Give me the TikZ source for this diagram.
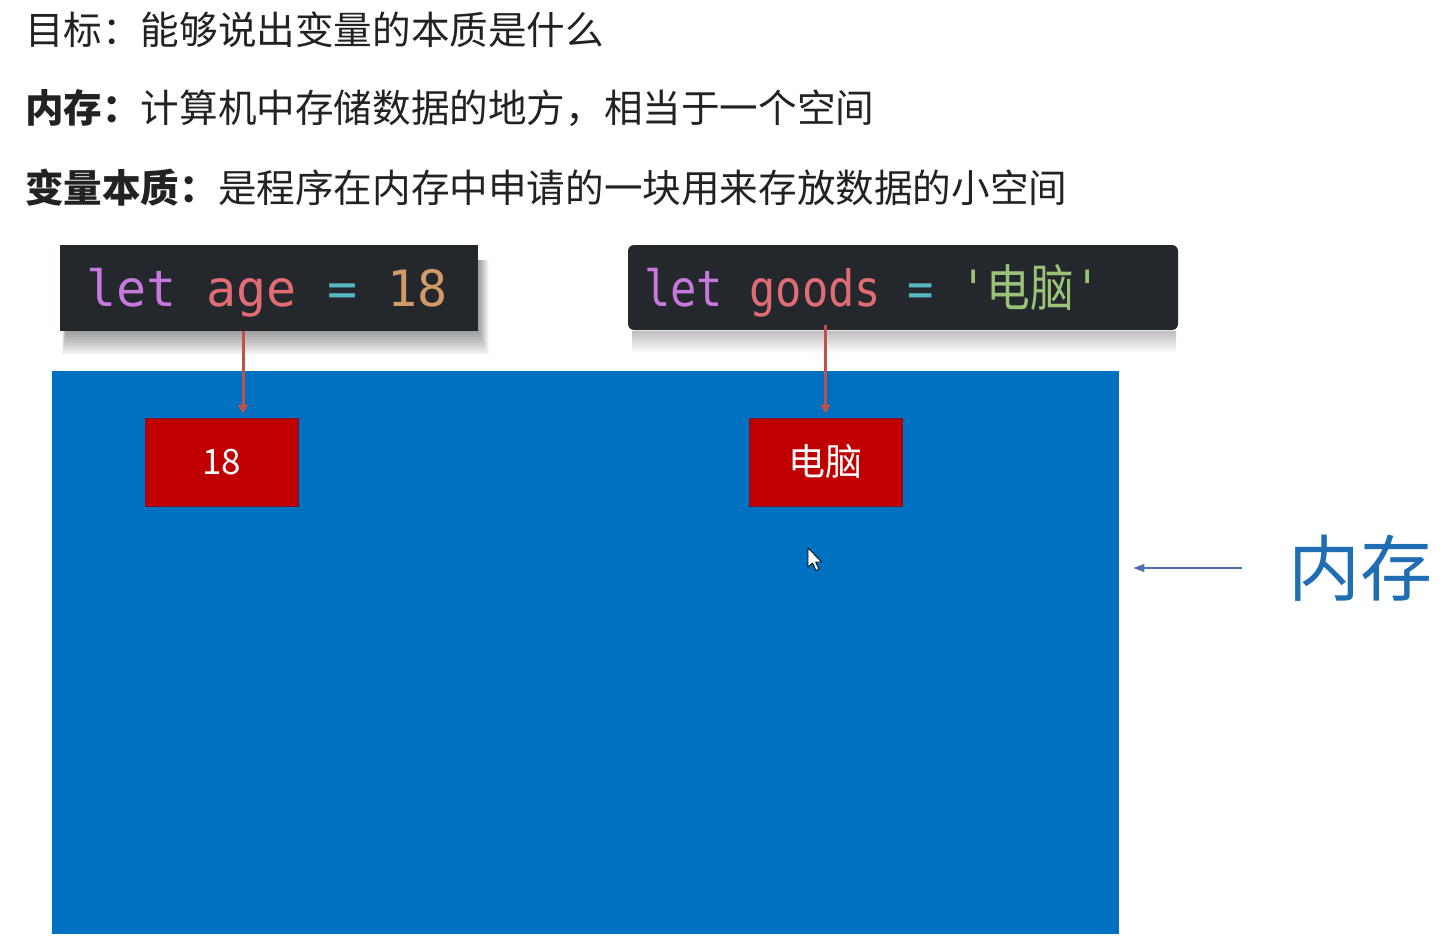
\documentclass[tikz,border=0pt]{standalone}
\usepackage{fontspec}
\usepackage{graphicx}
\setmainfont{Noto Sans CJK SC}
\newfontfamily\codefont{DejaVu Sans Mono}
\newfontfamily\cjkfont{Noto Sans CJK SC}
\usetikzlibrary{arrows.meta}
\definecolor{memblue}{RGB}{0,112,192}
\definecolor{boxred}{RGB}{192,0,0}
\definecolor{boxedge}{RGB}{120,20,50}
\definecolor{codebg}{RGB}{36,39,44}
\definecolor{kwpurple}{RGB}{198,120,221}
\definecolor{varred}{RGB}{224,108,117}
\definecolor{opcyan}{RGB}{86,182,194}
\definecolor{numorange}{RGB}{209,154,102}
\definecolor{strgreen}{RGB}{152,195,121}
\definecolor{arrowred}{RGB}{192,80,77}
\definecolor{labelblue}{RGB}{31,110,180}
\definecolor{thinblue}{RGB}{79,113,170}
\definecolor{textgray}{RGB}{34,34,34}
\tikzset{
  titletext/.style={anchor=base west, inner sep=0pt, text=textgray, font=\fontsize{38.6}{40}\selectfont},
  codebox/.style={fill=codebg, inner sep=0pt},
  codetext/.style={anchor=base west, inner sep=0pt, font=\codefont\fontsize{50}{52}\selectfont},
  valbox/.style={fill=boxred, draw=boxedge, line width=1pt, minimum width=153pt, minimum height=88pt, inner sep=0pt, text=white},
  redarrow/.style={draw=arrowred, line width=3pt, -{Triangle[length=9pt,width=10pt]}},
  thinarrow/.style={draw=thinblue, line width=1.3pt, -{Triangle[length=11pt,width=8pt]}},
}
\begin{document}
\begin{tikzpicture}[x=1pt,y=-1pt]
\useasboundingbox (0,0) rectangle (1449,950);
\fill[white] (0,0) rectangle (1449,950);

% title lines
\node[titletext] (t1) at (25,45) {目标：能够说出变量的本质是什么};
\node[titletext] (t2) at (25,122) {\textbf{内存：}计算机中存储数据的地方，相当于一个空间};
\node[titletext] (t3) at (25,202) {\textbf{变量本质：}是程序在内存中申请的一块用来存放数据的小空间};

% memory block
\node[fill=memblue, minimum width=1067pt, minimum height=563pt, inner sep=0pt, anchor=north west] (mem) at (52,371) {};

% shadow of code box 1
\foreach \i in {1,...,12}
  \fill[black, opacity=0.035] (66-\i*0.3, 260) rectangle (478+\i*0.9, 331+\i*2);

% reflection of code box 2
\shade[top color=black!25, bottom color=white] (632,331) rectangle (1176,353);

% code boxes
\node[codebox, minimum width=418pt, minimum height=86pt] (code1) at (269,288) {};
\node[codebox, rounded corners=6pt, minimum width=550pt, minimum height=85pt] (code2) at (903,287.5) {};

\node[codetext] (c1) at (86,306) {\textcolor{kwpurple}{let} \textcolor{varred}{age} \textcolor{opcyan}{=} \textcolor{numorange}{18}};
\node[codetext] (c2) at (644,306) {\scalebox{0.875}[1]{\textcolor{kwpurple}{let} \textcolor{varred}{goods} \textcolor{opcyan}{=} \textcolor{strgreen}{'{\cjkfont\fontsize{50}{52}\selectfont 电脑}'}}};

% value boxes
\node[valbox, font=\fontsize{35}{36}\selectfont] (v1) at (221.5,462) {18};
\node[valbox, font=\fontsize{37}{38}\selectfont] (v2) at (825.5,462) {电脑};

% arrows from code to values
\coordinate (a1x) at (243,0);
\draw[redarrow, shorten >=4pt] (a1x |- code1.south) -- (a1x |- v1.north);
\draw[redarrow, shorten >=4pt] ([yshift=5pt]v2.north |- code2.south) -- (v2.north);

% memory label
\node[text=labelblue, inner sep=0pt, font=\fontsize{72}{74}\selectfont] (memlabel) at (1360,568) {内存};
\coordinate (lt) at (1242,568);
\draw[thinarrow] (lt) -- ([xshift=14pt]mem.east |- lt);

% mouse cursor
\coordinate (cur) at (808,548);
\draw[black, fill=white, line width=0.8pt, line join=round] (cur) -- ++(0,19) -- ++(4.5,-4) -- ++(3.5,7.5) -- ++(3,-1.3) -- ++(-3.4,-7.2) -- ++(6,0) -- cycle;
\end{tikzpicture}
\end{document}
